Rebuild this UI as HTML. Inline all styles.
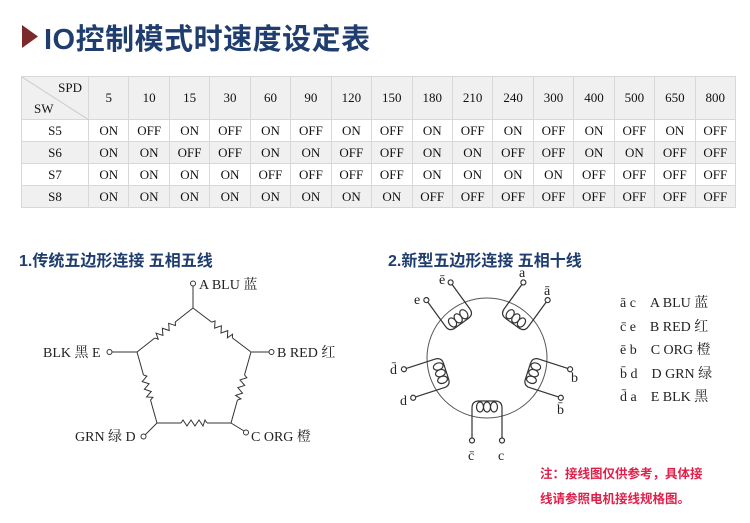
<!DOCTYPE html>
<html><head><meta charset="utf-8"><style>
body{margin:0;width:750px;height:523px;background:#fff;position:relative;overflow:hidden;font-family:"Liberation Serif","Noto Serif CJK SC",serif}
.t{position:absolute;left:20px;top:40px;font-family:"Liberation Sans","Noto Sans CJK SC",sans-serif;font-size:29px;font-weight:bold;color:#1f3d6e;white-space:nowrap;letter-spacing:0.5px}
table{position:absolute;left:21px;top:76px;width:715px;border-collapse:collapse;table-layout:fixed;font-size:13px;color:#111}
td{border:1px solid #d8d8d8;text-align:center;padding:0;height:21px;background:#fff}
tr.h td{height:42px;background:#f0f0f0}
tr.g td{background:#f0f0f0}
td.f{width:66px}
h2{position:absolute;margin:0;font-family:"Liberation Sans","Noto Sans CJK SC",sans-serif;font-size:16px;font-weight:bold;color:#1f3d6e;white-space:nowrap}
.note{position:absolute;left:540px;font-family:"Liberation Sans","Noto Sans CJK SC",sans-serif;font-size:12.5px;font-weight:bold;color:#e0204a;white-space:nowrap}
</style></head><body>
<svg style="position:absolute;left:0;top:0" width="750" height="523"><polygon points="22,25 22,48 38,36.5" fill="#7a2a2a"/></svg>
<div class="t" style="left:44px;top:16px">IO控制模式时速度设定表</div>
<table>
<tr class="h"><td class="f" style="position:relative;background:#f0f0f0"><svg style="position:absolute;left:0;top:0" width="67" height="43"><line x1="0" y1="0" x2="67" y2="43" stroke="#ccc"/></svg><span style="position:absolute;right:6px;top:3px">SPD</span><span style="position:absolute;left:12px;bottom:2px">SW</span></td><td>5</td><td>10</td><td>15</td><td>30</td><td>60</td><td>90</td><td>120</td><td>150</td><td>180</td><td>210</td><td>240</td><td>300</td><td>400</td><td>500</td><td>650</td><td>800</td></tr>
<tr><td>S5</td><td>ON</td><td>OFF</td><td>ON</td><td>OFF</td><td>ON</td><td>OFF</td><td>ON</td><td>OFF</td><td>ON</td><td>OFF</td><td>ON</td><td>OFF</td><td>ON</td><td>OFF</td><td>ON</td><td>OFF</td></tr>
<tr class="g"><td>S6</td><td>ON</td><td>ON</td><td>OFF</td><td>OFF</td><td>ON</td><td>ON</td><td>OFF</td><td>OFF</td><td>ON</td><td>ON</td><td>OFF</td><td>OFF</td><td>ON</td><td>ON</td><td>OFF</td><td>OFF</td></tr>
<tr><td>S7</td><td>ON</td><td>ON</td><td>ON</td><td>ON</td><td>OFF</td><td>OFF</td><td>OFF</td><td>OFF</td><td>ON</td><td>ON</td><td>ON</td><td>ON</td><td>OFF</td><td>OFF</td><td>OFF</td><td>OFF</td></tr>
<tr class="g"><td>S8</td><td>ON</td><td>ON</td><td>ON</td><td>ON</td><td>ON</td><td>ON</td><td>ON</td><td>ON</td><td>OFF</td><td>OFF</td><td>OFF</td><td>OFF</td><td>OFF</td><td>OFF</td><td>OFF</td><td>OFF</td></tr>
</table>
<h2 style="left:19px;top:247px">1.传统五边形连接 五相五线</h2>
<h2 style="left:388px;top:247px">2.新型五边形连接 五相十线</h2>
<svg style="position:absolute;left:0;top:0" width="750" height="523" font-family="Liberation Serif,Noto Serif CJK SC,serif" font-size="14" fill="#222">
<defs>
<g id="res"><polyline points="-13,0 -11,-3 -7,3 -3,-3 1,3 5,-3 9,3 11,-3 13,0" fill="none" stroke="#333" stroke-width="1"/></g>
<g id="coil" fill="none" stroke="#333" stroke-width="1.2">
<path d="M-15 80 L-15 50 Q-15 43 -8 43 L8 43 Q15 43 15 50 L15 80"/>
<ellipse cx="-7" cy="49" rx="3.5" ry="5"/><ellipse cx="0" cy="49" rx="3.5" ry="5"/><ellipse cx="7" cy="49" rx="3.5" ry="5"/>
<circle cx="-15" cy="82.5" r="2.5" fill="#fff"/><circle cx="15" cy="82.5" r="2.5" fill="#fff"/>
</g>
</defs>
<g stroke="#333" stroke-width="1" fill="none">
<line x1="193" y1="286" x2="193" y2="308"/>
<line x1="112" y1="352" x2="137" y2="352"/>
<line x1="251" y1="352" x2="269" y2="352"/>
<line x1="157" y1="423" x2="145" y2="435"/>
<line x1="231" y1="423" x2="244" y2="431"/>
<g transform="translate(222,330) rotate(37.2)"><line x1="-36" y1="0" x2="-13" y2="0"/><line x1="13" y1="0" x2="36" y2="0"/></g>
<g transform="translate(165,330) rotate(141.8)"><line x1="-36" y1="0" x2="-13" y2="0"/><line x1="13" y1="0" x2="36" y2="0"/></g>
<g transform="translate(147,387.5) rotate(74.3)"><line x1="-37" y1="0" x2="-13" y2="0"/><line x1="13" y1="0" x2="37" y2="0"/></g>
<g transform="translate(241,387.5) rotate(105.7)"><line x1="-37" y1="0" x2="-13" y2="0"/><line x1="13" y1="0" x2="37" y2="0"/></g>
<g transform="translate(194,423)"><line x1="-37" y1="0" x2="-13" y2="0"/><line x1="13" y1="0" x2="37" y2="0"/></g>
<circle cx="193" cy="283.5" r="2.5" fill="#fff"/><circle cx="109.5" cy="352" r="2.5" fill="#fff"/><circle cx="271.5" cy="352" r="2.5" fill="#fff"/><circle cx="143.5" cy="436.5" r="2.5" fill="#fff"/><circle cx="246" cy="432.5" r="2.5" fill="#fff"/>
</g>
<use href="#res" transform="translate(222,330) rotate(37.2)"/>
<use href="#res" transform="translate(165,330) rotate(141.8)"/>
<use href="#res" transform="translate(147,387.5) rotate(74.3)"/>
<use href="#res" transform="translate(241,387.5) rotate(105.7)"/>
<use href="#res" transform="translate(194,423)"/>
<text x="199" y="289">A BLU 蓝</text>
<text x="43" y="357">BLK 黑 E</text>
<text x="277" y="357">B RED 红</text>
<text x="75" y="441">GRN 绿 D</text>
<text x="251" y="441">C ORG 橙</text>
<circle cx="487" cy="358" r="60" fill="none" stroke="#555" stroke-width="1"/>
<g transform="translate(487,358)">
<use href="#coil"/><use href="#coil" transform="rotate(72)"/><use href="#coil" transform="rotate(144)"/><use href="#coil" transform="rotate(216)"/><use href="#coil" transform="rotate(288)"/>
</g>
<text x="439" y="284">ē</text><text x="414" y="304">e</text>
<text x="519" y="277">a</text><text x="544" y="295">ā</text>
<text x="571" y="382">b</text><text x="557" y="414">b̄</text>
<text x="390" y="374">d̄</text><text x="400" y="405">d</text>
<text x="468" y="460">c̄</text><text x="498" y="460">c</text>
<g font-size="14">
<text x="620" y="307">ā c　A BLU 蓝</text>
<text x="620" y="331">c̄ e　B RED 红</text>
<text x="620" y="354">ē b　C ORG 橙</text>
<text x="620" y="378">b̄ d　D GRN 绿</text>
<text x="620" y="401">d̄ a　E BLK 黑</text>
</g>
</svg>
<div class="note" style="top:463px">注：接线图仅供参考，具体接</div>
<div class="note" style="top:488px">线请参照电机接线规格图。</div>
</body></html>
